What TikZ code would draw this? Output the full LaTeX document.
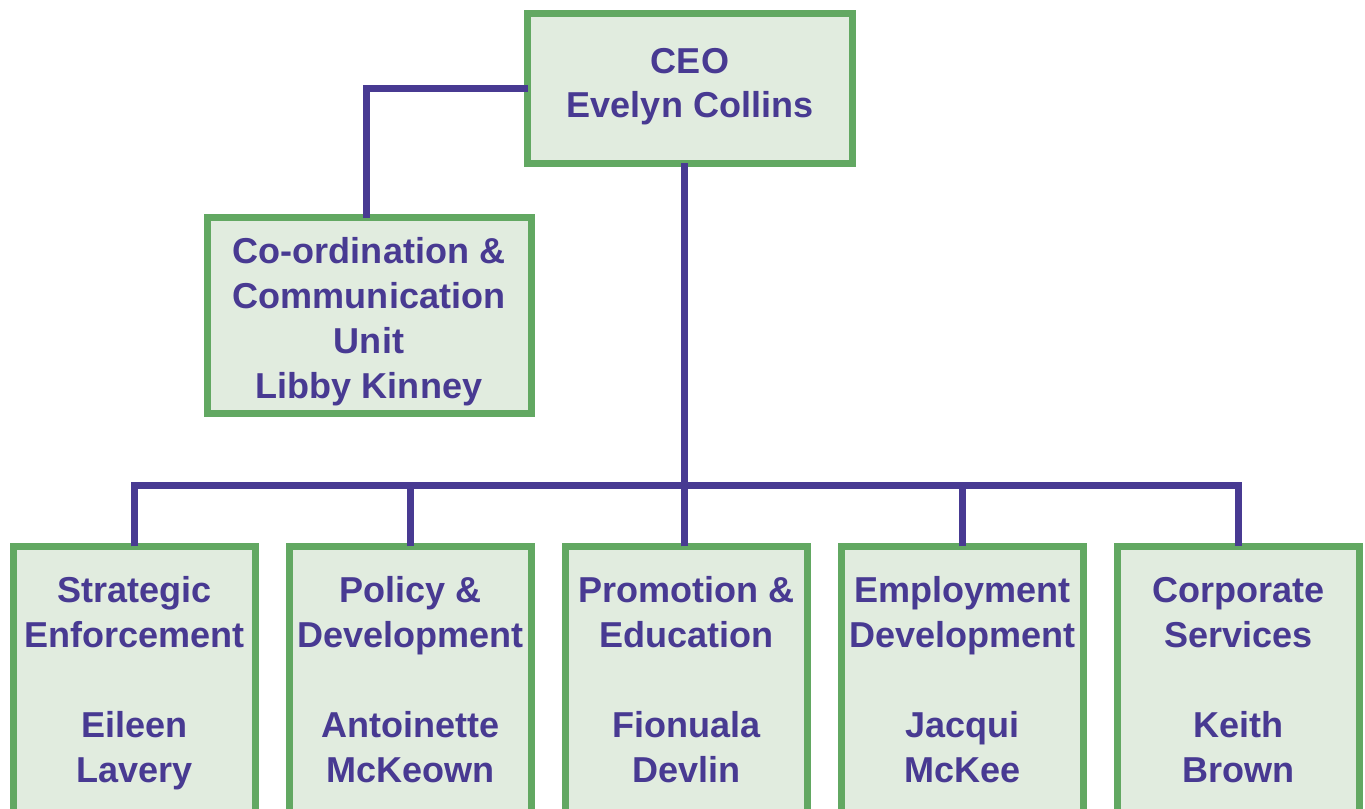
\documentclass[tikz,border=0pt]{standalone}
\usepackage{fontspec}
\setmainfont{Liberation Sans}

\definecolor{orgline}{RGB}{72,58,146}
\definecolor{orgtext}{RGB}{72,58,146}
\definecolor{boxdraw}{RGB}{98,168,98}
\definecolor{boxfill}{RGB}{225,236,223}

\begin{document}
\begin{tikzpicture}[
  x=1cm,
  y=1cm,
  every node/.style={inner sep=0pt, outer sep=0pt},
  post/.style={draw=boxdraw, fill=boxfill, line width=0.07cm,
    font=\bfseries\fontsize{10.25}{12.8}\selectfont, text=orgtext, align=center,
    text depth=0pt},
  top/.style={post, minimum width=3.25cm, minimum height=1.50cm, text height=0.59cm},
  unit/.style={post, minimum width=3.24cm, minimum height=1.96cm, text height=1.646cm},
  dept/.style={post, anchor=north, minimum width=2.42cm, minimum height=2.73cm,
    text height=1.98cm},
  link/.style={draw=orgline, line width=0.07cm}
]

  \clip (0,0) rectangle (13.65,8.08);

  % Chief executive and the unit reporting to the office
  \node[top] (ceo) at (6.90,7.195) {CEO\\Evelyn Collins};
  \node[unit] (ccu) at (3.69,4.92)
    {Co-ordination \&\\Communication\\Unit\\Libby Kinney};

  % Directorates along the bottom row
  \node[dept] (strat) at (1.345,2.615)
    {Strategic\\Enforcement\\[12.8pt]Eileen\\Lavery};
  \node[dept] (policy) at (4.105,2.615)
    {Policy \&\\Development\\[12.8pt]Antoinette\\McKeown};
  \node[dept] (promo) at (6.865,2.615)
    {Promotion \&\\Education\\[12.8pt]Fionuala\\Devlin};
  \node[dept] (employ) at (9.625,2.615)
    {Employment\\Development\\[12.8pt]Jacqui\\McKee};
  \node[dept] (corp) at (12.385,2.615)
    {Corporate\\Services\\[12.8pt]Keith\\Brown};

  % Reporting lines
  \coordinate (bus) at (6.845,3.225);
  \draw[link] (ceo.west) -| ([xshift=-0.03cm]ccu.north);
  \draw[link] ([xshift=-0.02cm]promo.north) -- ([xshift=-0.02cm]promo.north |- ceo.south);
  \draw[link] (strat.north) |- (bus) -| (corp.north);
  \draw[link] (policy.north) -- (policy.north |- bus);
  \draw[link] (employ.north) -- (employ.north |- bus);

\end{tikzpicture}
\end{document}
